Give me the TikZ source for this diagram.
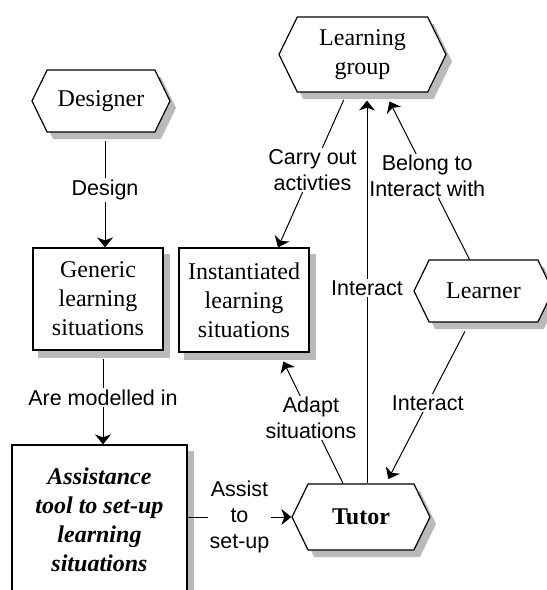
\documentclass[tikz,border=0pt]{standalone}
\usepackage{fontspec}
\setmainfont{Liberation Serif}
\setsansfont{Liberation Sans}
\usetikzlibrary{calc,shapes.symbols,arrows.meta,backgrounds}
\tikzset{
  hexa/.style={signal, signal to=west and east, signal pointer angle=128, inner sep=0pt},
  actor/.style={hexa, draw, line width=1.2pt, fill=white, minimum height=62pt, align=center,
    font=\fontsize{24}{29}\selectfont},
  actor shade/.style={hexa, fill=black!27, minimum height=62pt},
  situation/.style={draw, line width=1.2pt, fill=white, rectangle, inner sep=0pt, align=center,
    font=\fontsize{24}{29}\selectfont},
  rel/.style={line width=1pt, -{Stealth[length=10pt, width=16pt, inset=3pt]}},
  lbl/.style={fill=white, inner sep=1.5pt, align=center, font=\sffamily\fontsize{21.5}{26}\selectfont},
}

\begin{document}
\begin{tikzpicture}[x=1pt, y=-1pt]
	\useasboundingbox (0,0) rectangle (547,590);
	%%%%% START %%%%%
	
	\node[actor, minimum width=138pt] (designer) at (101,101) {Designer};
	\node[actor, minimum width=167pt, minimum height=75pt] (lgroup) at (362.5,54.5) {Learning\\group};
	\node[actor, minimum width=139pt] (learner) at (483.5,291) {Learner};
	\node[actor, minimum width=138pt, minimum height=66pt, font=\bfseries\fontsize{24}{29}\selectfont] (tutor) at (361,517) {Tutor};
	
	\node[situation, minimum width=130pt, minimum height=102pt] (generic) at (98,299) {Generic\\learning\\situations};
	\node[situation, minimum width=130pt, minimum height=104pt] (inst) at (244,300) {Instantiated\\learning\\situations};
	\node[situation, minimum width=175pt, minimum height=150pt, font=\bfseries\itshape\fontsize{24}{29}\selectfont] (assist) at (99.5,520) {Assistance\\tool to set-up\\learning\\situations};
	
	% grey shadows
	\begin{pgfonlayer}{background}
		\node[actor shade, minimum width=138pt] at ($(designer)+(6,7)$) {};
		\node[actor shade, minimum width=167pt, minimum height=75pt] at ($(lgroup)+(6,7)$) {};
		\node[actor shade, minimum width=139pt] at ($(learner)+(6,7)$) {};
		\node[actor shade, minimum width=138pt, minimum height=66pt] at ($(tutor)+(6,7)$) {};
		\fill[black!27] ($(generic.south west)+(6,7)$) rectangle ($(generic.north east)+(6,7)$);
		\fill[black!27] ($(inst.south west)+(6,7)$) rectangle ($(inst.north east)+(6,7)$);
		\fill[black!27] ($(assist.south west)+(6,7)$) rectangle ($(assist.north east)+(6,7)$);
	\end{pgfonlayer}
	
	\draw[rel, shorten <=8pt] ($(designer.south)+(4,0)$) -- node[lbl] {Design} ($(generic.north)+(7,0)$);
	\draw[rel, shorten <=8pt] ($(generic.south)+(5,0)$) -- node[lbl] {Are modelled in} ($(assist.north)+(3.5,0)$);
	\draw[rel] (assist.east |- tutor.west) -- node[lbl] {Assist\\to\\set-up} (tutor.west);
	
	\draw[rel, shorten <=8pt] ($(lgroup.south)+(-15.5,0)$) -- node[lbl] {Carry out\\activties} ($(inst.north)+(34,0)$);
	\draw[rel, {Stealth[length=10pt, width=16pt, inset=3pt]}-, shorten <=8pt] ($(lgroup.south)+(4.5,0)$) -- node[lbl] {Interact} ($(tutor.north)+(6,0)$);
	\draw[rel, shorten >=10pt] ($(learner.north)+(-14,0)$) -- node[lbl] {Belong to\\Interact with} ($(lgroup.south)+(22.5,0)$);
	
	\draw[rel, shorten >=10pt] ($(tutor.north)+(-18,0)$) -- node[lbl] {Adapt\\situations} ($(inst.south)+(35,0)$);
	\draw[rel, {Stealth[length=10pt, width=16pt, inset=3pt]}-, shorten <=5pt, shorten >=10pt] ($(tutor.north)+(25,0)$) -- node[lbl] {Interact} ($(learner.south)+(-14,0)$);
	
	%%%%% END %%%%%
\end{tikzpicture}
\end{document}
